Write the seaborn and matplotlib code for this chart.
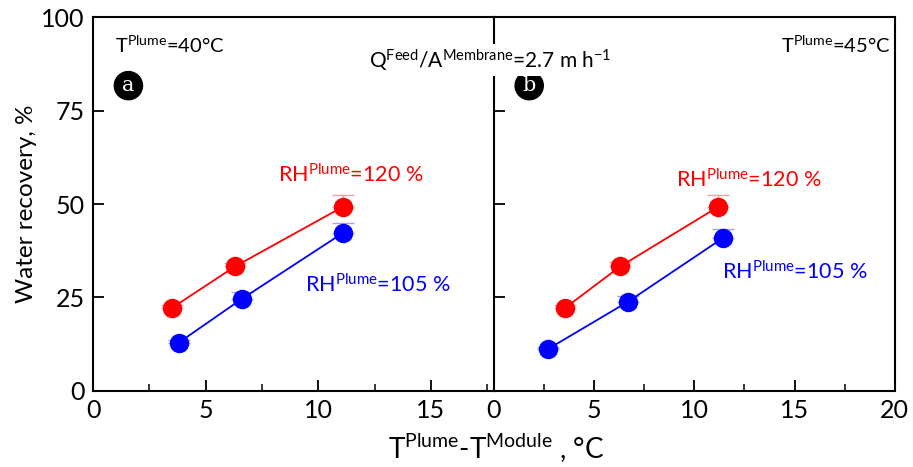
import numpy as np
import pandas as pd
import matplotlib
matplotlib.use('Agg')
import matplotlib.pyplot as plt
from matplotlib.ticker import MultipleLocator
import seaborn as sns

# Data (panel a: T_plume=40 C, panel b: T_plume=45 C)
dt_a_120 = [3.5, 6.3, 11.1]
wr_a_120 = [22.2, 33.3, 49.3]
err_a_120 = [0.8, 1.0, 3.0]
dt_a_105 = [3.8, 6.6, 11.1]
wr_a_105 = [12.9, 24.6, 42.3]
err_a_105 = [0.6, 1.8, 2.6]

dt_b_120 = [3.55, 6.3, 11.2]
wr_b_120 = [22.2, 33.3, 49.3]
err_b_120 = [0.8, 1.2, 3.2]
dt_b_105 = [2.7, 6.7, 11.45]
wr_b_105 = [11.2, 23.9, 41.0]
err_b_105 = [0.5, 1.6, 2.4]

sns.set_style('ticks')
plt.rcParams['font.family'] = ['Lato', 'DejaVu Sans']
plt.rcParams['mathtext.fontset'] = 'custom'
plt.rcParams['mathtext.rm'] = 'Lato'
plt.rcParams['mathtext.it'] = 'Lato'
plt.rcParams['axes.linewidth'] = 1.5
plt.rcParams['text.color'] = 'black'
plt.rcParams['axes.labelcolor'] = 'black'

RED = '#ff0000'
BLUE = '#0000ff'

fig = plt.figure(figsize=(9.13, 4.67), dpi=100)
gs = fig.add_gridspec(1, 2, left=0.102, right=0.980, top=0.963, bottom=0.163, wspace=0)
ax1 = fig.add_subplot(gs[0])
ax2 = fig.add_subplot(gs[1], sharey=ax1)


def draw(ax, x, y, err, color, light):
    ax.errorbar(x, np.array(y), yerr=[np.zeros(len(err)), err], fmt='none',
                ecolor=light, elinewidth=1, capsize=8, capthick=1, zorder=2)
    df = pd.DataFrame({'x': x, 'y': y})
    sns.lineplot(data=df, x='x', y='y', ax=ax, color=color, lw=1.3,
                 marker='o', markersize=14, markeredgewidth=0, zorder=3)


draw(ax1, dt_a_120, wr_a_120, err_a_120, RED, '#f5a0a0')
draw(ax1, dt_a_105, wr_a_105, err_a_105, BLUE, '#a0a0f5')
draw(ax2, dt_b_120, wr_b_120, err_b_120, RED, '#f5a0a0')
draw(ax2, dt_b_105, wr_b_105, err_b_105, BLUE, '#a0a0f5')

ax1.set_xlim(0, 17.8)
ax2.set_xlim(0, 20)
ax1.set_ylim(0, 100)

for ax in (ax1, ax2):
    ax.set_xlabel('')
    ax.set_ylabel('')
    ax.xaxis.set_major_locator(MultipleLocator(5))
    ax.xaxis.set_minor_locator(MultipleLocator(2.5))
    ax.yaxis.set_major_locator(MultipleLocator(25))
    ax.tick_params(axis='both', which='major', direction='in', length=8, width=1.3,
                   labelsize=18, colors='black', pad=6)
    ax.tick_params(axis='x', which='minor', direction='in', length=5, width=1.3)
    ax.tick_params(top=False, right=False)
    for s in ax.spines.values():
        s.set_color('black')
        s.set_visible(True)

ax1.spines['right'].set_visible(False)
ax2.tick_params(axis='y', labelleft=False)

ax1.set_ylabel('Water recovery, %', fontsize=17.5, labelpad=3)
fig.text(0.543, 0.005, r'T$^{\mathrm{Plume}}$-T$^{\mathrm{Module}}$ , °C',
         ha='center', va='bottom', fontsize=20)

# Annotations
ax1.text(0.055, 0.905, r'T$^{\mathrm{Plume}}$=40°C', transform=ax1.transAxes, fontsize=14.5)
ax2.text(0.99, 0.905, r'T$^{\mathrm{Plume}}$=45°C', transform=ax2.transAxes,
         ha='right', fontsize=14.5)
fig.text(0.537, 0.872, r'Q$^{\mathrm{Feed}}$/A$^{\mathrm{Membrane}}$=2.7 m h$^{\mathrm{-1}}$',
         ha='center', va='center', fontsize=15,
         bbox=dict(boxstyle='square,pad=0.15', fc='white', ec='none'), zorder=10)

for ax, letter in ((ax1, 'a'), (ax2, 'b')):
    ax.text(0.088, 0.817, letter, transform=ax.transAxes, ha='center', va='center',
            fontsize=15, color='white', family='DejaVu Serif',
            bbox=dict(boxstyle='circle,pad=0.22', fc='black', ec='black'))

ax1.text(0.643, 0.56, r'RH$^{\mathrm{Plume}}$=120 %', transform=ax1.transAxes,
         ha='center', color=RED, fontsize=15.5)
ax1.text(0.71, 0.265, r'RH$^{\mathrm{Plume}}$=105 %', transform=ax1.transAxes,
         ha='center', color=BLUE, fontsize=15.5)
ax2.text(0.635, 0.545, r'RH$^{\mathrm{Plume}}$=120 %', transform=ax2.transAxes,
         ha='center', color=RED, fontsize=15.5)
ax2.text(0.75, 0.3, r'RH$^{\mathrm{Plume}}$=105 %', transform=ax2.transAxes,
         ha='center', color=BLUE, fontsize=15.5)

fig.savefig('out.png', dpi=100)
